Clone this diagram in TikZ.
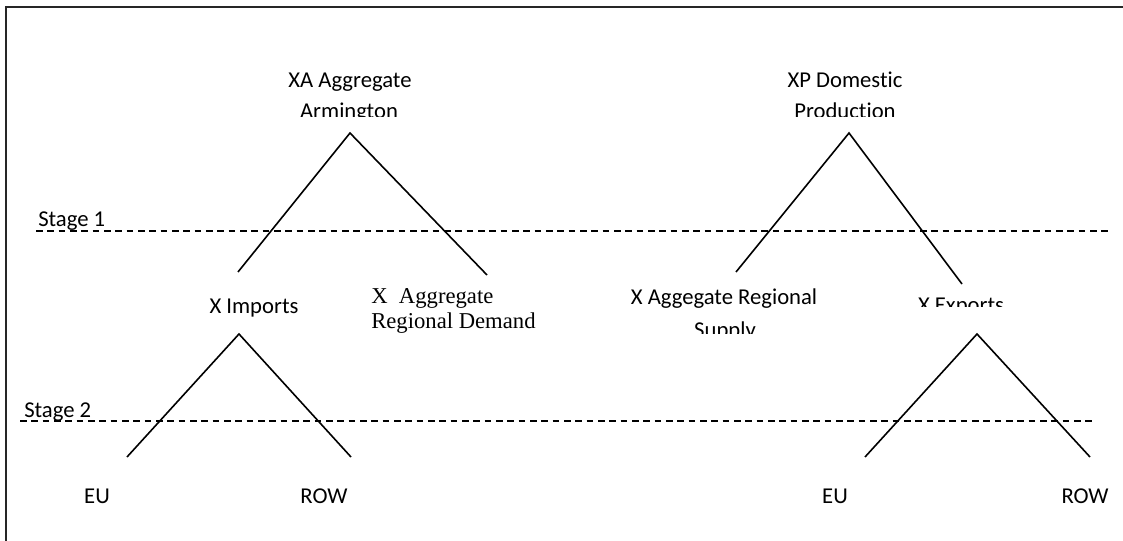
\documentclass[tikz,border=0pt]{standalone}
\usepackage{fontspec}
\setmainfont{Carlito}[Ligatures=NoCommon]
\newfontfamily\timesf{Liberation Serif}
\begin{document}
\begin{tikzpicture}[x=0.75pt,y=-0.75pt,
  lbl/.style={inner sep=0pt,anchor=base,font=\fontsize{17pt}{20pt}\selectfont},
  tlbl/.style={inner sep=0pt,anchor=base west,font=\timesf\fontsize{17pt}{19pt}\selectfont},
  branch/.style={line width=1.2pt,black},
  stageline/.style={line width=1pt,dash pattern=on 5pt off 3.5pt},
  frame/.style={line width=1.6pt,black!85}]
\useasboundingbox (0,0) rectangle (1123,541);
% frame
\coordinate (fb) at (6,541);
\coordinate (fc) at (6,7);
\coordinate (fr) at (1123,7);
\draw[frame] (fb) -- (fc) -- (fr);

% stage lines
\node[lbl,anchor=base west] (s1) at (38,227) {Stage 1};
\coordinate (s1a) at (36,231); \coordinate (s1b) at (1110,231);
\draw[stageline] (s1a) -- (s1b);
\node[lbl,anchor=base west] (s2) at (24,417) {Stage 2};
\coordinate (s2a) at (20,421); \coordinate (s2b) at (1094,421);
\draw[stageline] (s2a) -- (s2b);

% top labels
\node[lbl] (xa) at (350,88) {XA Aggregate};
\begin{scope}
\clip (200,95) rectangle (500,117);
\node[lbl] (xa2) at (349,119) {Armington};
\end{scope}
\node[lbl] (xp) at (845,88) {XP Domestic};
\begin{scope}
\clip (700,95) rectangle (1000,117);
\node[lbl] (xp2) at (845,119) {Production};
\end{scope}

% triangle 1
\coordinate (a1) at (350,133);
\coordinate (l1) at (238,272);
\coordinate (r1) at (487,275);
\draw[branch] (l1) -- (a1) -- (r1);
% triangle 2
\coordinate (a2) at (849,133);
\coordinate (l2) at (736,272);
\coordinate (r2) at (962,284);
\draw[branch] (l2) -- (a2) -- (r2);

% middle labels
\node[lbl] (imp) at (254,314) {X Imports};
\node[tlbl] (agd) at (371,304) {X\ \ Aggregate};
\node[tlbl] (agd2) at (371,329) {Regional Demand};
\node[lbl] (ags) at (724,305) {X Aggegate Regional};
\begin{scope}
\clip (600,310) rectangle (850,333);
\node[lbl] (ags2) at (725,337) {Supply};
\end{scope}
\begin{scope}
\clip (880,290) rectangle (1050,307);
\node[lbl] (exp) at (961,313) {X Exports};
\end{scope}

% triangle 3
\coordinate (a3) at (239,334);
\coordinate (l3) at (127,457);
\coordinate (r3) at (351,457);
\draw[branch] (l3) -- (a3) -- (r3);
% triangle 4
\coordinate (a4) at (977,334);
\coordinate (l4) at (865,457);
\coordinate (r4) at (1090,457);
\draw[branch] (l4) -- (a4) -- (r4);

% bottom labels
\node[lbl] (eu1) at (97,503) {EU};
\node[lbl] (row1) at (324,503) {ROW};
\node[lbl] (eu2) at (835,503) {EU};
\node[lbl] (row2) at (1085,503) {ROW};
\end{tikzpicture}
\end{document}
